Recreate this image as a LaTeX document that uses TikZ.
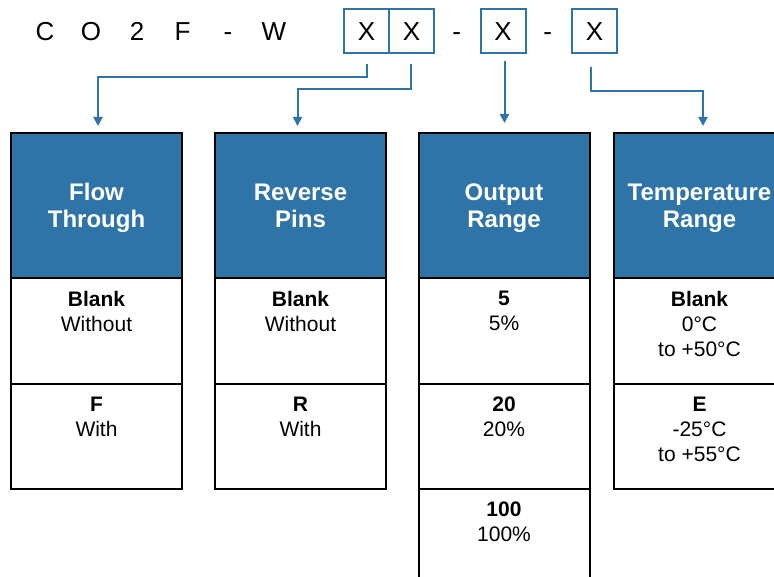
\documentclass[tikz,border=0pt]{standalone}
\usepackage{fontspec}
\setmainfont{Liberation Sans}
\usetikzlibrary{arrows.meta}
\definecolor{hblue}{RGB}{46,116,166}
\begin{document}
\begin{tikzpicture}[x=1pt,y=-1pt,
  xbox/.style={draw=hblue, line width=2pt, minimum width=45pt, minimum height=44pt, inner sep=0pt, outer sep=0pt, font=\fontsize{26}{30}\selectfont},
  code/.style={anchor=base, inner sep=0pt, font=\fontsize{26}{30}\selectfont},
  head/.style={draw=black, line width=2pt, fill=hblue, text=white, minimum width=171pt, minimum height=145pt, align=center, text depth=0pt, inner sep=0pt, outer sep=0pt, font=\bfseries\fontsize{24}{27}\selectfont},
  cell/.style={draw=black, line width=2pt, minimum width=171pt, inner sep=0pt, outer sep=0pt, anchor=north},
  ctext/.style={anchor=north, align=center, inner sep=0pt, font=\fontsize{21}{25}\selectfont},
  arr/.style={draw=hblue, line width=2pt, -{Triangle[width=9pt,length=9pt]}}
]
\path[use as bounding box] (0,0) rectangle (774,577);
\clip (0,0) rectangle (774,577);

% part code
\node[code] (l1) at (45,41) {C};
\node[code] (l2) at (91,41) {O};
\node[code] (l3) at (137,41) {2};
\node[code] (l4) at (182.5,41) {F};
\node[code] (l5) at (228,41) {-};
\node[code] (l6) at (274,41) {W};
\node[xbox] (x1) at (366.5,31.3) {X};
\node[xbox] (x2) at (411.5,31.3) {X};
\node[code] (d1) at (456.7,41) {-};
\node[xbox] (x3) at (503,31.3) {X};
\node[code] (d2) at (547.7,41) {-};
\node[xbox] (x4) at (594.5,31.3) {X};

% headers
\node[head] (h1) at (96.5,205.5) {Flow\\Through};
\node[head] (h2) at (300.5,205.5) {Reverse\\Pins};
\node[head] (h3) at (504,205.5) {Output\\Range};
\node[head] (h4) at (699.5,205.5) {Temperature\\Range};

% cells
\node[cell, minimum height=106pt] (c11) at (h1.south) {};
\node[cell, minimum height=105pt] (c12) at (c11.south) {};
\node[cell, minimum height=106pt] (c21) at (h2.south) {};
\node[cell, minimum height=105pt] (c22) at (c21.south) {};
\node[cell, minimum height=106pt] (c31) at (h3.south) {};
\node[cell, minimum height=105pt] (c32) at (c31.south) {};
\node[cell, minimum height=106pt] (c33) at (c32.south) {};
\node[cell, minimum height=106pt] (c41) at (h4.south) {};
\node[cell, minimum height=105pt] (c42) at (c41.south) {};

% cell texts
\node[ctext] (t11) at ([yshift=-12.7pt]c11.north) {\textbf{Blank}\\Without};
\node[ctext] (t12) at ([yshift=-12.7pt]c12.north) {\textbf{F}\\With};
\node[ctext] (t21) at ([yshift=-12.7pt]c21.north) {\textbf{Blank}\\Without};
\node[ctext] (t22) at ([yshift=-12.7pt]c22.north) {\textbf{R}\\With};
\node[ctext] (t31) at ([yshift=-12.7pt]c31.north) {\textbf{5}\\5\%};
\node[ctext] (t32) at ([yshift=-12.7pt]c32.north) {\textbf{20}\\20\%};
\node[ctext] (t33) at ([yshift=-12.7pt]c33.north) {\textbf{100}\\100\%};
\node[ctext] (t41) at ([yshift=-12.7pt]c41.north) {\textbf{Blank}\\0°C\\to +50°C};
\node[ctext] (t42) at ([yshift=-12.7pt]c42.north) {\textbf{E}\\-25°C\\to +55°C};

% connectors
\draw[arr] ([xshift=0.2pt,yshift=-10.7pt]x1.south) -- ++(0,13) -| ([xshift=1.5pt,yshift=7pt]h1.north);
\draw[arr] ([xshift=-0.5pt,yshift=-10.7pt]x2.south) -- ++(0,25) -| ([xshift=-3pt,yshift=7pt]h2.north);
\draw[arr] ([xshift=1.5pt,yshift=-7.7pt]x3.south) -- ([xshift=0.5pt,yshift=10pt]h3.north);
\draw[arr] ([xshift=-3.5pt,yshift=-13.4pt]x4.south) -- ++(0,24) -| ([xshift=3.5pt,yshift=7pt]h4.north);
\end{tikzpicture}
\end{document}
